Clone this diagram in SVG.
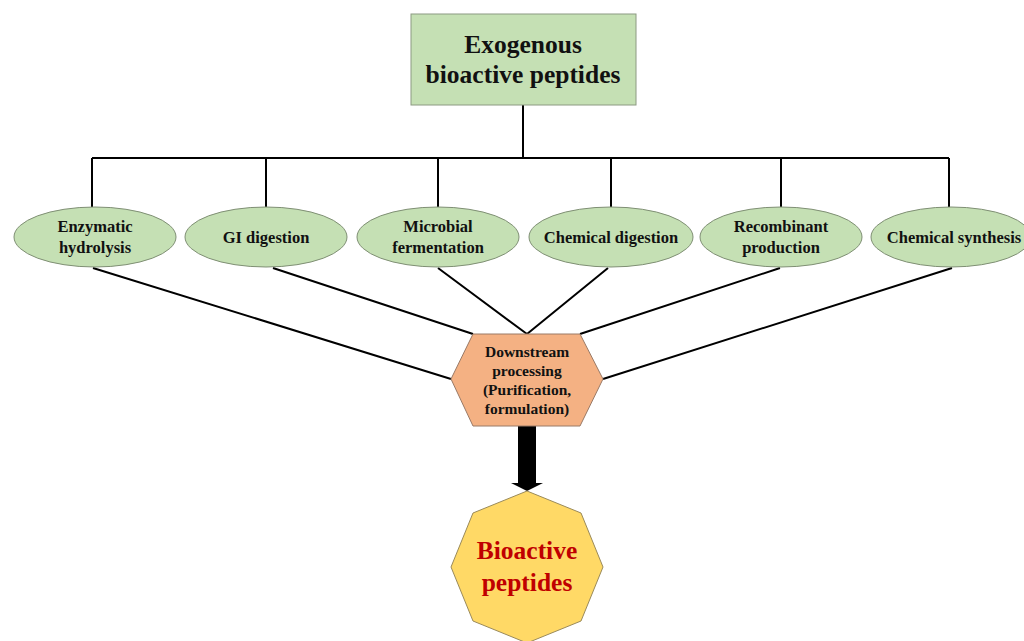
<svg xmlns="http://www.w3.org/2000/svg" width="1024" height="641" viewBox="0 0 1024 641">
<style>
.t{font-family:"Liberation Serif",serif;font-weight:bold;text-anchor:middle;fill:#111}
.s{font-size:16.5px}
.h{font-size:15.5px}
.e{fill:#c5e0b4;stroke:#7f8f74;stroke-width:1}
.c{stroke:#000;stroke-width:2;fill:none}
</style>
<rect width="1024" height="641" fill="#fff"/>
<g id="connectors">
<path class="c" d="M523,105V158M92,158H949M92,158V207M266,158V207M438,158V207M611,158V207M781,158V207M949,158V207"/>
<path class="c" d="M93,268L451,379M273,268L473,334M438,268L527,334M608,268L527,334M780,268L580,334M952,268L603,379"/>
<path d="M518,426H536V483H543L527,491L511,483H518Z" fill="#000"/>
</g>
<g id="top">
<rect x="411" y="14" width="225" height="91" fill="#c5e0b4" stroke="#8c9a82"/>
<text class="t" x="523" y="53" font-size="25.5">Exogenous</text>
<text class="t" x="523" y="83" font-size="25.5">bioactive peptides</text>
</g>
<g id="n1"><ellipse class="e" cx="95" cy="237" rx="81" ry="30"/>
<text class="t s" x="95" y="232">Enzymatic</text><text class="t s" x="95" y="253">hydrolysis</text></g>
<g id="n2"><ellipse class="e" cx="266" cy="237" rx="81" ry="30"/>
<text class="t s" x="266" y="243">GI digestion</text></g>
<g id="n3"><ellipse class="e" cx="438" cy="237" rx="81" ry="30"/>
<text class="t s" x="438" y="232">Microbial</text><text class="t s" x="438" y="253">fermentation</text></g>
<g id="n4"><ellipse class="e" cx="611" cy="237" rx="82" ry="30"/>
<text class="t s" x="611" y="243">Chemical digestion</text></g>
<g id="n5"><ellipse class="e" cx="781" cy="237" rx="81" ry="30"/>
<text class="t s" x="781" y="232">Recombinant</text><text class="t s" x="781" y="253">production</text></g>
<g id="n6"><ellipse class="e" cx="951" cy="237" rx="80" ry="30"/>
<text class="t s" x="954" y="243">Chemical synthesis</text></g>
<g id="hex">
<polygon points="473,334 580,334 603,379 580,426 473,426 451,379" fill="#f4b183" stroke="#9a7a66"/>
<text class="t h" x="527" y="357">Downstream</text>
<text class="t h" x="527" y="376">processing</text>
<text class="t h" x="527" y="395">(Purification,</text>
<text class="t h" x="527" y="414">formulation)</text>
</g>
<g id="oct">
<polygon points="527,491 581,513 603,567 581,621 527,643 473,621 451,567 473,513" fill="#ffd966" stroke="#9a8a5a"/>
<text x="527" y="559" font-size="25.5" class="t" style="fill:#c00000">Bioactive</text>
<text x="527" y="591" font-size="25.5" class="t" style="fill:#c00000">peptides</text>
</g>
</svg>
